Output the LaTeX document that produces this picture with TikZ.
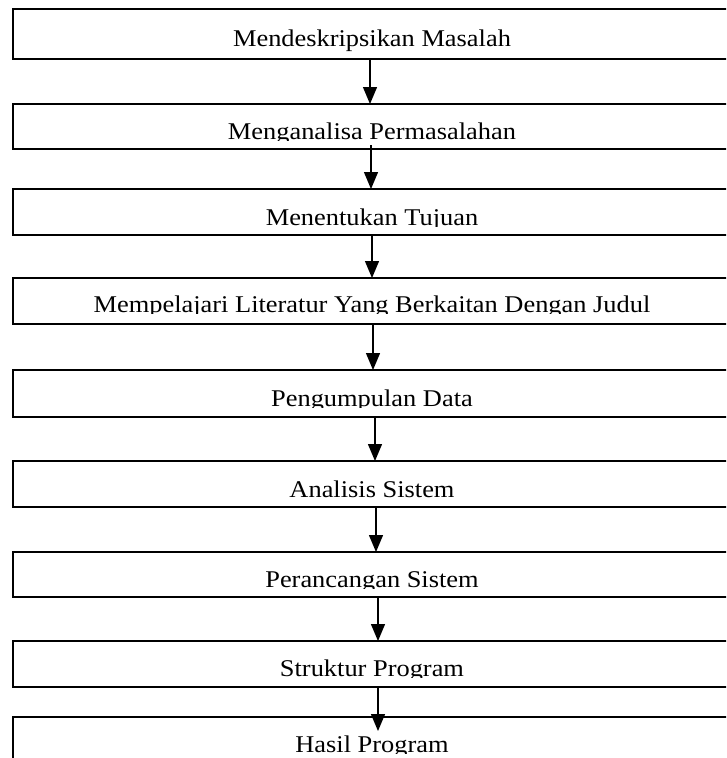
\documentclass[tikz,border=0pt]{standalone}
\usepackage{fontspec}
\setmainfont{Liberation Serif}
\usepackage{graphicx}
\usetikzlibrary{arrows.meta}
\tikzset{
  stepbox/.style={draw=black, line width=1.8pt, minimum width=718pt, inner sep=0pt, outer sep=0pt, anchor=north west},
  lbl/.style={inner sep=0pt, outer sep=0pt, anchor=base, font=\fontsize{24}{28}\selectfont},
  arr/.style={line width=1.3pt, -{Triangle[length=17pt,width=14pt]}}
}
\newcommand{\wtxt}[1]{\scalebox{1.1}[1]{#1}}
\begin{document}
\begin{tikzpicture}[x=1pt,y=-1pt]
\clip (0,0) rectangle (726,758);
\fill[white] (0,0) rectangle (726,758);
% boxes
\node[stepbox, minimum height=50pt] (b1) at (13,9) {};
\node[stepbox, minimum height=45pt] (b2) at (13,104) {};
\node[stepbox, minimum height=46pt] (b3) at (13,189) {};
\node[stepbox, minimum height=46pt] (b4) at (13,278) {};
\node[stepbox, minimum height=47pt] (b5) at (13,370) {};
\node[stepbox, minimum height=46pt] (b6) at (13,461) {};
\node[stepbox, minimum height=45pt] (b7) at (13,552) {};
\node[stepbox, minimum height=46pt] (b8) at (13,641) {};
\node[stepbox, minimum height=50pt] (b9) at (13,717) {};
% texts
\node[lbl] (t1) at (372,46) {\wtxt{Mendeskripsikan Masalah}};
\begin{scope}\clip (13,104) rectangle (731,140);
\node[lbl] (t2) at (372,139) {\wtxt{Menganalisa Permasalahan}};\end{scope}
\begin{scope}\clip (13,189) rectangle (731,226);
\node[lbl] (t3) at (372,225) {\wtxt{Menentukan Tujuan}};\end{scope}
\begin{scope}\clip (13,278) rectangle (731,313);
\node[lbl] (t4) at (372,312) {\wtxt{Mempelajari Literatur Yang Berkaitan Dengan Judul}};\end{scope}
\begin{scope}\clip (13,370) rectangle (731,407);
\node[lbl] (t5) at (372,406) {\wtxt{Pengumpulan Data}};\end{scope}
\begin{scope}\clip (13,461) rectangle (731,498);
\node[lbl] (t6) at (372,497) {\wtxt{Analisis Sistem}};\end{scope}
\begin{scope}\clip (13,552) rectangle (731,588);
\node[lbl] (t7) at (372,587) {\wtxt{Perancangan Sistem}};\end{scope}
\begin{scope}\clip (13,641) rectangle (731,677);
\node[lbl] (t8) at (372,676) {\wtxt{Struktur Program}};\end{scope}
\begin{scope}\clip (13,717) rectangle (731,753);
\node[lbl] (t9) at (372,752) {\wtxt{Hasil Program}};\end{scope}
% arrows
\draw[arr] ([xshift=-2pt]b1.south) -- ([xshift=-2pt]b2.north);
\draw[arr] ([xshift=-1pt,yshift=4pt]b2.south) -- ([xshift=-1pt]b3.north);
\draw[arr] ([xshift=0pt]b3.south) -- ([xshift=0pt]b4.north);
\draw[arr] ([xshift=1pt]b4.south) -- ([xshift=1pt]b5.north);
\draw[arr] ([xshift=3pt]b5.south) -- ([xshift=3pt]b6.north);
\draw[arr] ([xshift=4pt]b6.south) -- ([xshift=4pt]b7.north);
\draw[arr] ([xshift=6pt]b7.south) -- ([xshift=6pt]b8.north);
\draw[arr] ([xshift=6pt]b8.south) -- ([xshift=6pt,yshift=-14pt]b9.north);
\end{tikzpicture}
\end{document}
